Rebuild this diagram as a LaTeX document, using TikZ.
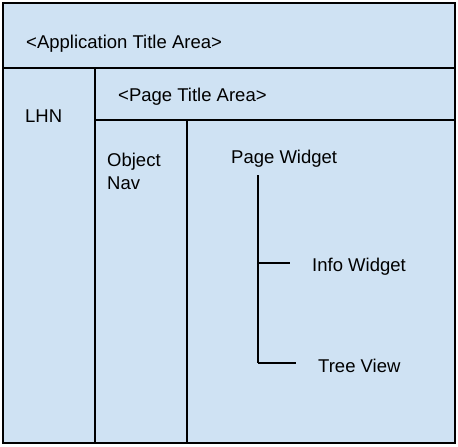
\documentclass[tikz,border=0pt]{standalone}
\usepackage{fontspec}
\setmainfont{Liberation Sans}
\usetikzlibrary{positioning, calc}
\definecolor{paneBlue}{HTML}{CFE2F3}
\tikzset{
  paneBox/.style={draw=black, line width=1.6pt, fill=paneBlue},
  paneLine/.style={draw=black, line width=1.6pt},
  paneText/.style={anchor=west, font=\fontsize{18.5}{23}\selectfont, inner sep=0pt, align=left},
  treeLine/.style={draw=black, line width=1.4pt},
}
\begin{document}
\begin{tikzpicture}[x=1pt, y=-1pt]
\useasboundingbox (0,0) rectangle (458,447);
\draw [paneBox] (3,3) rectangle (455,443);
\coordinate (appL) at (3,68);
\coordinate (appR) at (455,68);
\coordinate (lhnT) at (95,68);
\coordinate (lhnB) at (95,443);
\coordinate (pgL) at (95,120);
\coordinate (pgR) at (455,120);
\coordinate (navT) at (187,120);
\coordinate (navB) at (187,443);
\draw [paneLine] (appL) -- (appR);
\draw [paneLine] (lhnT) -- (lhnB);
\draw [paneLine] (pgL) -- (pgR);
\draw [paneLine] (navT) -- (navB);

\node (app) [paneText] at (26,44) {<Application Title Area>};
\node (lhn) [paneText] at (25,116) {LHN};
\node (pgTitle) [paneText] at (118,97) {<Page Title Area>};
\node (objNav) [paneText] at (107,171) {Object\\Nav};
\node (pgWidget) [paneText] at (231,159) {Page Widget};
\node (infoWidget) [paneText] at (312,267) {Info Widget};
\node (treeView) [paneText] at (318,366) {Tree View};

\coordinate (trunkT) at (258,175);
\coordinate (trunkB) at (258,363);
\draw [treeLine] (trunkT) -- (trunkB);
\draw [treeLine] (trunkT |- 0,263) -- ++(32,0);
\draw [treeLine] (trunkB) -- ++(38,0);
\end{tikzpicture}
\end{document}
